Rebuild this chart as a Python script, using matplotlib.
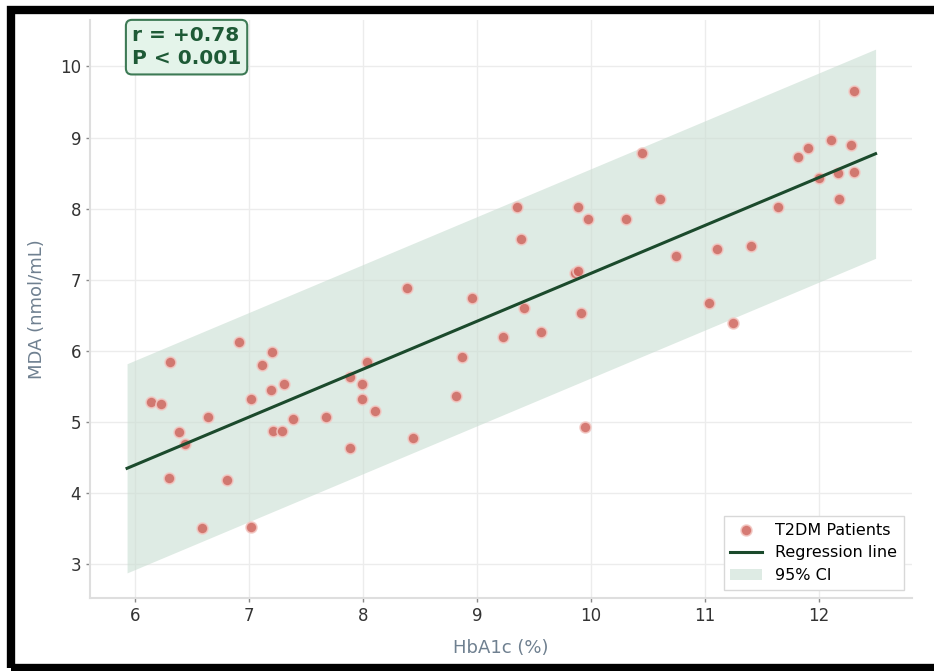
import matplotlib.pyplot as plt
import matplotlib.patches as patches
import numpy as np

# HbA1c (%) and MDA (nmol/mL)
hba1c = [6.14, 6.23, 6.31, 6.30, 6.39, 6.44, 6.59, 6.64, 6.81, 6.91,
         7.02, 7.02, 7.11, 7.20, 7.19, 7.21, 7.29, 7.31, 7.39, 7.68,
         7.89, 7.89, 7.99, 7.99, 8.04, 8.11, 8.39, 8.44, 8.82, 8.87,
         8.96, 9.23, 9.35, 9.39, 9.41, 9.56, 9.86, 9.89, 9.89, 9.91,
         9.98, 9.95, 10.31, 10.45, 10.61, 10.75, 11.04, 11.11, 11.25, 11.41,
         11.64, 11.82, 11.91, 12.00, 12.11, 12.17, 12.18, 12.28, 12.31, 12.31]
mda = [5.28, 5.25, 5.85, 4.22, 4.86, 4.69, 3.51, 5.07, 4.19, 6.12,
       5.33, 3.53, 5.80, 5.99, 5.45, 4.88, 4.87, 5.54, 5.04, 5.07,
       4.64, 5.63, 5.54, 5.32, 5.84, 5.15, 6.88, 4.78, 5.37, 5.92,
       6.75, 6.20, 8.02, 7.57, 6.60, 6.26, 7.09, 7.13, 8.02, 6.54,
       7.85, 4.93, 7.85, 8.78, 8.13, 7.33, 6.68, 7.44, 6.40, 7.48,
       8.03, 8.72, 8.85, 8.43, 8.97, 8.50, 8.14, 8.90, 9.65, 8.51]

# regression line and 95% band as drawn in the reference
slope = 0.673
intercept = 0.36
ci_half = 1.47
fit_range = [5.93, 12.5]

fig = plt.figure(figsize=(9.34, 6.71), dpi=100)
ax = fig.add_axes([0.0964, 0.109, 0.8796, 0.861])

xs = np.linspace(fit_range[0], fit_range[1], 100)
ys = intercept + slope * xs
ax.fill_between(xs, ys - ci_half, ys + ci_half, color="#c9ded2", alpha=0.6,
                linewidth=0, label="95% CI", zorder=1)
ax.scatter(hba1c, mda, s=62, color="#cf645c", alpha=0.85, edgecolor="#f3c9c4",
           linewidth=1.2, label="T2DM Patients", zorder=3)
ax.plot(xs, ys, color="#1b4a2c", linewidth=2.2, label="Regression line", zorder=4)

ax.set_xlim(5.605, 12.816)
ax.set_ylim(2.53, 10.65)
ax.set_xticks([6, 7, 8, 9, 10, 11, 12])
ax.set_yticks([3, 4, 5, 6, 7, 8, 9, 10])
ax.grid(True, color="#ececec", linewidth=1)
ax.set_axisbelow(True)
for s in ["top", "right"]:
    ax.spines[s].set_visible(False)
for s in ["left", "bottom"]:
    ax.spines[s].set_color("#dedede")
    ax.spines[s].set_linewidth(1.5)
ax.tick_params(colors="#333333", labelsize=12, length=3, width=1)
ax.tick_params(axis="both", color="#888888")

ax.set_xlabel("HbA1c (%)", fontsize=13, color="#6f8090", labelpad=10)
ax.set_ylabel("MDA (nmol/mL)", fontsize=13, color="#6f8090", labelpad=10)

ax.text(0.051, 0.99, "r = +0.78\nP < 0.001", transform=ax.transAxes,
        fontsize=14.5, fontweight="bold", color="#1e5a36", va="top", ha="left",
        linespacing=1.3, clip_on=False,
        bbox=dict(boxstyle="round,pad=0.3", facecolor="#e4f4ea",
                  edgecolor="#3d7a55", linewidth=1.5))

h, l = ax.get_legend_handles_labels()
order = [l.index("T2DM Patients"), l.index("Regression line"), l.index("95% CI")]
ax.legend([h[i] for i in order], [l[i] for i in order], loc="lower right",
          fontsize=11.5, frameon=True, fancybox=False, edgecolor="#d8d8d8",
          framealpha=1, borderaxespad=0.5)

# black frame around the figure, cropped on the right in the reference
frame = patches.Rectangle((0.0118, 0.0045), 1.2, 0.9805, transform=fig.transFigure,
                          fill=False, edgecolor="black", linewidth=6, clip_on=False)
fig.patches.append(frame)

fig.savefig("out.png", dpi=100)
